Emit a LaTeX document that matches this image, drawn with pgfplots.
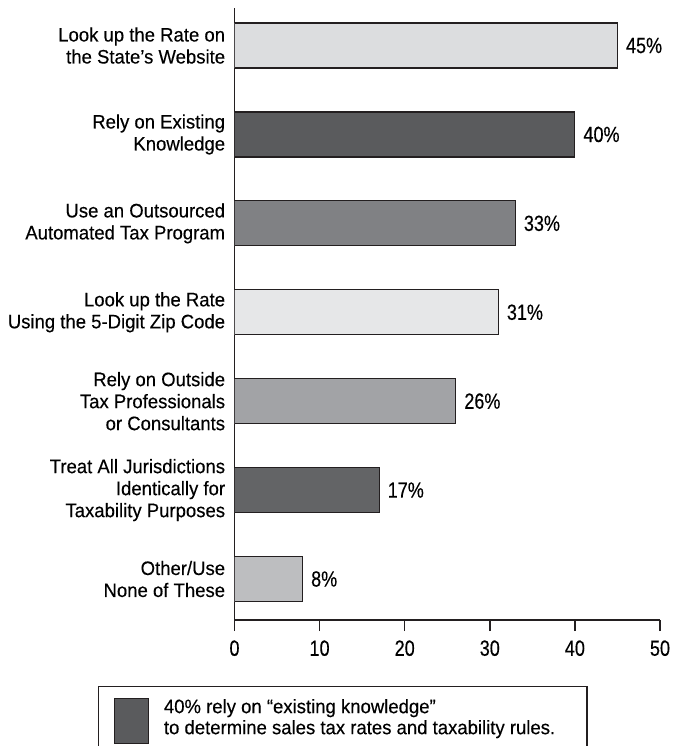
\documentclass[border=0pt]{standalone}
\usepackage{fontspec}
\setmainfont{Liberation Sans}[FakeStretch=0.95, FakeBold=0.3]
\newfontfamily\numfont{Liberation Sans}[FakeStretch=0.82, FakeBold=0.3]
\usepackage{pgfplots}
\pgfplotsset{compat=1.18}

\definecolor{barA}{HTML}{DCDDDF}
\definecolor{barB}{HTML}{5A5B5D}
\definecolor{barC}{HTML}{808184}
\definecolor{barD}{HTML}{E6E7E8}
\definecolor{barE}{HTML}{A2A3A6}
\definecolor{barF}{HTML}{636466}
\definecolor{barG}{HTML}{BDBEC0}
\definecolor{edge}{HTML}{231F20}

\pgfplotsset{mybar/.style={xbar, fill=#1, draw=edge, line width=0.6bp, forget plot}}

\begin{document}
\begin{tikzpicture}
\begin{axis}[
    scale only axis,
    width=212.75bp, height=306bp,
    bar shift=0pt, bar width=0.506,
    xmin=0, xmax=50,
    ymin=0.539, ymax=7.422,
    axis x line*=bottom, axis y line*=left,
    axis line style={-, line width=0.75bp, edge},
    xtick={0,10,...,50},
    ytick={1,...,7},
    yticklabels={
        {Other/Use\\None of These},
        {Treat All Jurisdictions\\Identically for\\Taxability Purposes},
        {Rely on Outside\\Tax Professionals\\or Consultants},
        {Look up the Rate\\Using the 5-Digit Zip Code},
        {Use an Outsourced\\Automated Tax Program},
        {Rely on Existing\\Knowledge},
        {Look up the Rate on\\the State’s Website}},
    yticklabel style={align=right, inner sep=0pt, xshift=1bp,
        font=\fontsize{9.75bp}{11bp}\selectfont},
    xticklabel style={inner sep=0pt, yshift=-4.5bp,
        font=\numfont\fontsize{11bp}{13bp}\selectfont},
    /pgf/number format/assume math mode=true,
    tick align=outside,
    major tick length=5.5bp,
    x tick style={line width=0.75bp, edge},
    y tick style={draw=none},
    point meta=x,
    nodes near coords={\pgfmathprintnumber{\pgfplotspointmeta}\%},
    nodes near coords align=horizontal,
    every node near coord/.append style={anchor=west, inner sep=0pt, xshift=4bp,
        font=\numfont\fontsize{11bp}{13bp}\selectfont, text=black},
    legend style={at={(-0.3208,-0.1078)}, anchor=north west,
        draw=edge, line width=0.75bp, inner xsep=7.5bp, inner ysep=5.5bp,
        nodes={inner sep=0pt},
        /tikz/every odd column/.append style={column sep=7.5bp}},
]
\addplot[mybar=barG] coordinates {(8,1)};
\addplot[mybar=barF] coordinates {(17,2)};
\addplot[mybar=barE] coordinates {(26,3)};
\addplot[mybar=barD] coordinates {(31,4)};
\addplot[mybar=barC] coordinates {(33,5)};
\addplot[mybar=barB] coordinates {(40,6)};
\addplot[mybar=barA] coordinates {(45,7)};

\addlegendimage{legend image code/.code={
    \draw[fill=barB, draw=edge, line width=0.6bp] (0bp,-15.25bp) rectangle (17bp,7.25bp);}}
\addlegendentry{\parbox{204bp}{\raggedright\fontsize{9.75bp}{10.5bp}\selectfont
    40\% rely on “existing knowledge”\\to determine sales tax rates and taxability rules.}}
\end{axis}
\pgfresetboundingbox
\useasboundingbox (-117.25bp,-63bp) rectangle (220.25bp,310bp);
\end{tikzpicture}
\end{document}
